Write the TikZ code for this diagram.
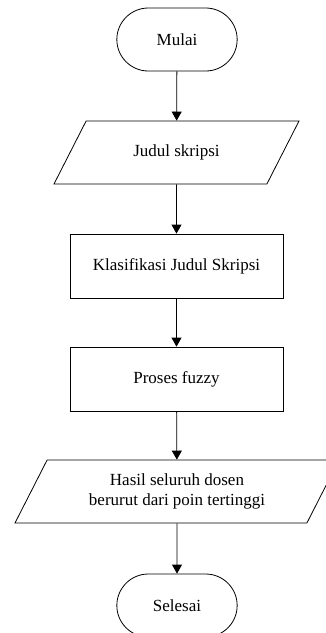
\documentclass[tikz,border=0pt]{standalone}
\usepackage{fontspec}
\setmainfont{Liberation Serif}
\usepackage{tikz}
\usetikzlibrary{shapes.misc,shapes.geometric,arrows.meta}

\begin{document}
\begin{tikzpicture}[x=1pt,y=1pt,
  every node/.style={draw,line width=0.8pt,font=\fontsize{17}{20}\selectfont},
  terminal/.style={rounded rectangle,minimum width=127pt,minimum height=63pt},
  io/.style={trapezium,trapezium left angle=63,trapezium right angle=117,
    trapezium stretches body,align=center},
  process/.style={rectangle,minimum width=213pt,minimum height=64pt},
  arrow/.style={line width=0.8pt,-{Triangle[length=9pt,width=10pt]}}]
\useasboundingbox (0,0) rectangle (326,-633);
\clip (0,0) rectangle (326,-633);
\node (mulai) at (177,-39.5) [terminal] {Mulai};
\node (judul) at (176.5,-152.5) [io,minimum width=245pt,text height=12pt,text depth=4pt,inner ysep=23.5pt] {Judul skripsi};
\node (klasifikasi) at (176.5,-266) [process] {Klasifikasi Judul Skripsi};
\node (fuzzy) at (176.5,-379) [process] {Proses fuzzy};
\node (hasil) at (177,-491.5) [io,minimum width=324pt,text height=32pt,text depth=4pt,inner ysep=13.5pt] {Hasil seluruh dosen\\berurut dari poin tertinggi};
\node (selesai) at (177,-605.5) [terminal] {Selesai};

\draw[arrow] (mulai) -- (judul);
\draw[arrow] (judul) -- (klasifikasi);
\draw[arrow] (klasifikasi) -- (fuzzy);
\draw[arrow] (fuzzy) -- (hasil);
\draw[arrow] (hasil) -- (selesai);
\end{tikzpicture}
\end{document}
